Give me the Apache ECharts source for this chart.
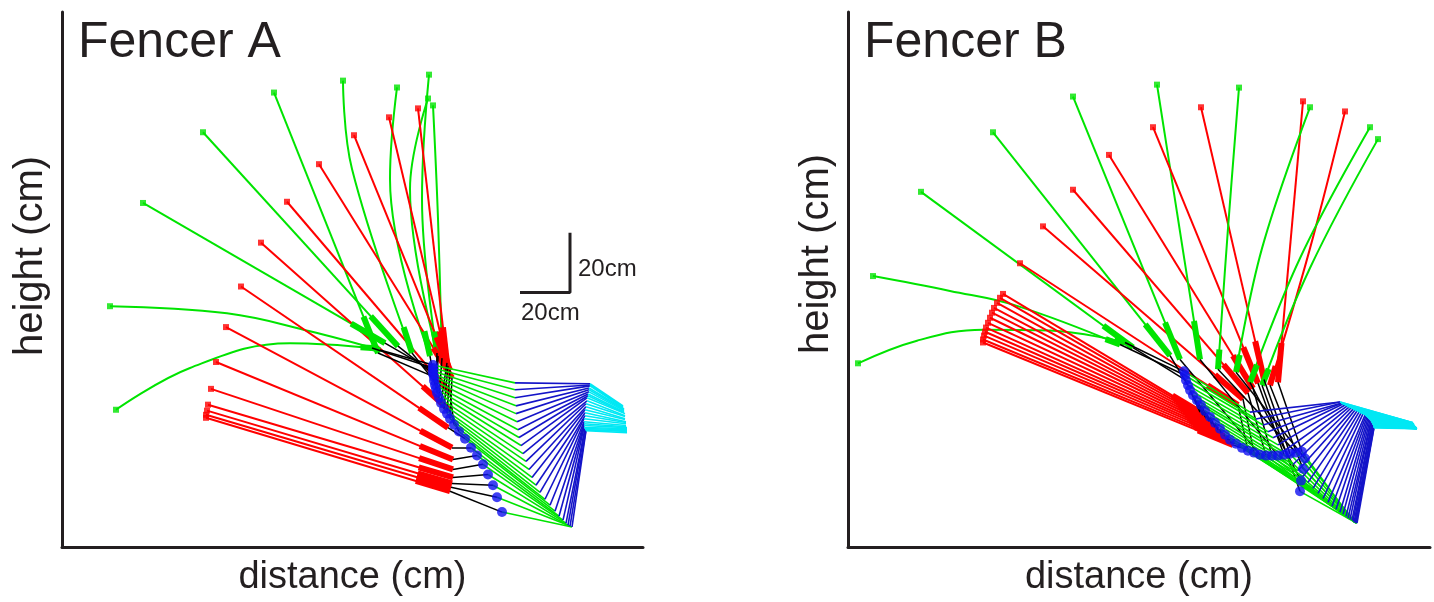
<!DOCTYPE html>
<html>
<head>
<meta charset="utf-8">
<script src="https://cdn.jsdelivr.net/npm/echarts/dist/echarts.min.js"></script>
<style>
  html, body { margin: 0; padding: 0; background: #fff; }
  #chart { width: 1434px; height: 602px; }
</style>
</head>
<body>
<div id="chart"></div>
<script>
// arm + blade stick figures, one entry per video frame, positions in cm
const A_col = ['g','g','g','g','g','g','g','g','g','g','r','r','r','r','r','r','r','r','r','r','r','r','r','r'];
const A_tipX = [19.2, 21.6, 32.4, 56.4, 84.8, 112.4, 134.0, 146.8, 146.4, 148.4, 142.4, 130.8, 116.8, 102.8, 90.0, 79.6, 71.6, 65.6, 61.6, 59.6, 58.4, 58.0, 57.6, 57.6];
const A_tipY = [80.7, 46.0, 115.3, 139.0, 152.3, 156.3, 154.0, 158.3, 150.3, 148.0, 147.0, 144.0, 138.0, 128.3, 115.7, 102.0, 87.3, 73.7, 62.0, 53.0, 47.7, 45.7, 44.3, 43.3];
const A_bendX = [[66.0, 99.2], [51.2, 91.2], null, null, null, [116.0], [131.2], [144.0], [139.2], [150.4], null, null, null, null, null, null, null, null, null, null, null, null, null, null];
const A_bendY = [[78.3, 72.3], [60.0, 68.3], null, null, null, [126.7], [123.3], [116.7], [120.0], [110.0], null, null, null, null, null, null, null, null, null, null, null, null, null, null];
const A_handX = [127.2, 124.0, 129.2, 134.4, 126.4, 140.0, 147.2, 150.0, 150.4, 152.0, 154.0, 154.4, 155.2, 156.0, 155.2, 154.8, 154.4, 156.0, 156.4, 156.4, 156.4, 156.0, 155.6, 155.2];
const A_handY = [66.0, 66.7, 68.3, 67.3, 65.0, 65.0, 64.0, 65.0, 64.0, 63.3, 61.7, 60.7, 59.3, 56.7, 51.7, 46.0, 40.0, 33.3, 29.3, 26.0, 23.3, 21.3, 20.0, 18.7];
const A_wristX = [148.4, 148.4, 148.4, 148.4, 148.8, 148.8, 149.2, 149.6, 150.0, 150.8, 151.6, 152.8, 154.0, 155.2, 156.8, 158.8, 161.2, 163.6, 166.0, 168.4, 170.4, 172.4, 174.0, 176.0];
const A_wristY = [61.0, 60.0, 59.0, 58.0, 57.0, 55.7, 54.3, 53.0, 51.7, 50.0, 48.3, 46.3, 44.7, 43.0, 41.0, 38.7, 36.3, 33.3, 30.7, 27.7, 24.3, 20.7, 16.7, 11.7];
const A_elbowX = [181.2, 181.2, 181.2, 181.6, 181.6, 182.0, 182.4, 182.8, 183.6, 184.4, 185.6, 186.8, 188.0, 189.6, 191.2, 193.2, 195.2, 197.2, 198.8, 200.4, 201.6, 202.4, 203.2, 204.0];
const A_elbowY = [55.0, 52.7, 50.0, 47.3, 44.7, 42.0, 39.3, 36.7, 34.0, 31.3, 28.7, 26.0, 23.3, 20.7, 18.3, 16.0, 14.0, 12.0, 10.3, 9.0, 8.0, 7.3, 7.0, 6.7];
const A_shoulderX = [211.2, 211.2, 211.2, 210.8, 210.8, 210.8, 210.4, 210.4, 210.0, 210.0, 209.6, 209.6, 209.2, 209.2, 209.2, 208.8, 208.8, 208.8, 208.8, 208.8, 209.2, 209.2, 209.6, 209.6];
const A_shoulderY = [54.7, 54.3, 54.0, 53.3, 52.7, 52.0, 51.3, 50.7, 50.0, 49.0, 48.0, 47.0, 46.0, 45.0, 44.0, 43.0, 42.0, 41.3, 40.7, 40.0, 39.7, 39.3, 39.3, 39.0];
const A_cyanX = [224.4, 224.4, 224.4, 224.8, 224.8, 224.8, 224.8, 224.8, 225.2, 225.2, 225.2, 225.2, 225.2, 225.6, 225.6, 225.6, 225.6, 225.6, 226.0, 226.0, 226.0, 226.0, 226.0, 226.0];
const A_cyanY = [47.3, 47.0, 46.7, 46.3, 46.0, 45.7, 45.3, 45.0, 44.7, 44.0, 43.7, 43.0, 42.7, 42.0, 41.7, 41.3, 40.7, 40.3, 40.0, 39.7, 39.3, 39.0, 38.7, 38.3];

const B_col = ['g','g','g','g','r','r','r','r','r','r','r','r','r','r','r','r','r','r','g','r','r','g','r','r','g','r','g','r','g','g'];
const B_tipX = [4.0, 10.0, 29.2, 58.0, 62.0, 60.8, 59.6, 58.4, 57.6, 56.8, 56.0, 55.2, 54.8, 54.4, 54.0, 54.0, 68.8, 78.0, 90.0, 90.0, 104.4, 123.6, 122.0, 141.2, 156.4, 182.0, 184.8, 198.8, 208.8, 212.0];
const B_tipY = [61.7, 91.0, 119.3, 139.3, 85.0, 83.7, 82.0, 80.3, 78.7, 77.0, 75.3, 73.7, 72.3, 71.0, 69.7, 68.7, 95.3, 107.7, 151.3, 120.0, 131.7, 155.3, 141.0, 147.7, 154.3, 149.7, 147.7, 146.3, 141.0, 137.0];
const B_bendX = [[27.6, 54.0, 80.8], [40.8, 67.6], null, null, null, null, null, null, null, null, null, null, null, null, null, null, null, null, null, null, null, null, null, null, [152.0], null, [165.6], [184.8], [180.8], [184.8]];
const B_bendY = [[69.3, 73.0, 72.7], [86.0, 81.0], null, null, null, null, null, null, null, null, null, null, null, null, null, null, null, null, null, null, null, null, null, null, [107.0], null, [100.3], [100.3], [97.0], [93.7]];
const B_handX = [110.8, 108.8, 114.0, 128.8, 140.8, 142.0, 143.2, 144.4, 145.6, 146.8, 148.0, 149.2, 150.4, 151.6, 152.8, 154.0, 156.0, 158.0, 132.8, 160.0, 162.0, 140.8, 164.0, 166.4, 148.0, 172.0, 155.2, 168.8, 160.8, 165.6];
const B_handY = [68.7, 68.0, 67.0, 64.3, 45.3, 44.3, 43.3, 42.3, 41.3, 40.3, 39.3, 38.3, 37.3, 36.3, 35.3, 34.3, 47.7, 49.7, 63.0, 51.7, 53.3, 63.0, 55.0, 56.3, 59.7, 55.3, 58.7, 54.3, 55.3, 54.3];
const B_wristX = [134.4, 134.8, 135.2, 136.0, 136.8, 138.0, 139.6, 141.2, 142.8, 144.8, 146.8, 148.8, 150.8, 152.8, 155.2, 157.6, 160.0, 162.4, 164.8, 167.2, 169.6, 172.0, 174.4, 176.8, 179.2, 181.6, 182.8, 182.0, 181.2, 180.8];
const B_wristY = [59.0, 57.7, 56.0, 54.3, 52.7, 51.0, 49.3, 47.7, 45.7, 43.7, 41.7, 39.7, 37.7, 36.0, 34.7, 33.3, 32.3, 31.7, 31.0, 30.7, 30.7, 30.7, 31.0, 31.3, 31.7, 32.0, 29.7, 26.3, 22.3, 18.7];
const B_elbowX = [160.8, 163.2, 166.0, 168.0, 170.0, 172.0, 174.0, 176.0, 178.0, 180.0, 182.0, 184.0, 186.0, 188.0, 190.0, 192.0, 193.6, 195.2, 196.8, 198.0, 199.2, 200.0, 200.8, 201.6, 202.0, 202.4, 202.8, 203.2, 203.2, 203.6];
const B_elbowY = [45.3, 43.0, 41.0, 38.7, 36.7, 34.3, 32.0, 30.0, 27.7, 25.7, 23.7, 21.7, 19.7, 18.0, 16.3, 15.0, 13.7, 12.7, 11.7, 11.0, 10.3, 9.7, 9.3, 9.0, 8.7, 8.3, 8.3, 8.0, 8.0, 8.0];
const B_shoulderX = [196.8, 196.8, 197.2, 197.6, 198.0, 198.8, 199.6, 200.4, 201.2, 202.0, 202.8, 203.6, 204.4, 205.2, 206.0, 206.8, 207.2, 207.6, 208.0, 208.4, 208.8, 209.2, 209.2, 209.6, 209.6, 210.0, 210.0, 210.0, 210.4, 210.4];
const B_shoulderY = [48.7, 48.7, 48.3, 48.3, 48.0, 47.7, 47.3, 47.0, 46.7, 46.3, 46.0, 45.7, 45.3, 45.0, 44.7, 44.3, 44.0, 43.7, 43.3, 43.0, 42.7, 42.3, 42.0, 41.7, 41.3, 41.0, 40.7, 40.3, 40.3, 40.0];
const B_cyanX = [226.0, 226.0, 226.0, 226.0, 226.4, 226.4, 226.4, 226.4, 226.4, 226.8, 226.8, 226.8, 226.8, 226.8, 227.2, 227.2, 227.2, 227.2, 227.2, 227.2, 227.6, 227.6, 227.6, 227.6, 227.6, 227.6, 227.6, 227.6, 227.6, 227.6];
const B_cyanY = [41.7, 41.7, 41.7, 41.3, 41.3, 41.3, 41.0, 41.0, 41.0, 40.7, 40.7, 40.7, 40.3, 40.3, 40.3, 40.3, 40.0, 40.0, 40.0, 40.0, 40.0, 39.7, 39.7, 39.7, 39.7, 39.7, 39.7, 39.7, 39.7, 39.7];

// 20cm scale bar (panel A)
const scaleX = [183.2, 203.2, 203.2];
const scaleY = [85.3, 85.3, 105.3];

const COLORS = { g: '#00e400', r: '#ff0000' };
const INK = '#231f20';
const FONT = '"Liberation Sans", Arial, Helvetica, sans-serif';

function panelSeries(p, gi) {
  let series = [];
  let n = p.tipX.length;
  let axes = { xAxisIndex: gi, yAxisIndex: gi };

  let guards = [], tips = [], black = [], fore = [], upper = [], cyan = [];
  for (let i = 0; i < n; i++) {
    let col = COLORS[p.col[i]];
    let pts = [[p.tipX[i], p.tipY[i]]];
    if (p.bendX[i]) p.bendX[i].forEach((bx, k) => pts.push([bx, p.bendY[i][k]]));
    pts.push([p.handX[i], p.handY[i]]);
    series.push({
      type: 'line', ...axes, data: pts, smooth: p.bendX[i] ? 0.4 : false,
      showSymbol: false, silent: true, z: 2,
      lineStyle: { color: col, width: 2 }
    });
    // thick grip part of the blade next to the hand
    let prev = pts[pts.length - 2];
    let hx = p.handX[i], hy = p.handY[i];
    guards.push({
      coords: [[hx, hy], [hx + (prev[0] - hx) * 0.14, hy + (prev[1] - hy) * 0.14]],
      lineStyle: { color: col }
    });
    tips.push({ value: [p.tipX[i], p.tipY[i]], itemStyle: { color: col } });
    black.push({ coords: [[p.wristX[i], p.wristY[i]], [hx, hy]] });
    fore.push({ coords: [[p.wristX[i], p.wristY[i]], [p.elbowX[i], p.elbowY[i]]] });
    upper.push({ coords: [[p.elbowX[i], p.elbowY[i]], [p.shoulderX[i], p.shoulderY[i]]] });
    cyan.push({ coords: [[p.shoulderX[i], p.shoulderY[i]], [p.cyanX[i], p.cyanY[i]]] });
  }

  let lines = (data, color, width, z) => ({
    type: 'lines', ...axes, coordinateSystem: 'cartesian2d', data, silent: true, z,
    lineStyle: { color, width, opacity: 1 }
  });

  series.push({ ...lines(guards, null, 6, 3), lineStyle: { width: 6, opacity: 1 } });
  series.push(lines(black, '#000000', 1.5, 4));
  series.push(lines(fore, '#00e400', 1.6, 4));
  series.push(lines(upper, '#1414c8', 1.6, 4));
  series.push(lines(cyan, '#00e8f4', 1.6, 4));
  series.push({
    type: 'scatter', ...axes, data: tips, symbol: 'rect', symbolSize: 6, silent: true, z: 5
  });
  series.push({
    type: 'scatter', ...axes, silent: true, z: 6, symbolSize: 10,
    data: p.wristX.map((x, i) => [x, p.wristY[i]]),
    itemStyle: { color: '#1010f0' }
  });
  return series;
}

let A = { col: A_col, tipX: A_tipX, tipY: A_tipY, bendX: A_bendX, bendY: A_bendY, handX: A_handX, handY: A_handY,
  wristX: A_wristX, wristY: A_wristY, elbowX: A_elbowX, elbowY: A_elbowY,
  shoulderX: A_shoulderX, shoulderY: A_shoulderY, cyanX: A_cyanX, cyanY: A_cyanY };
let B = { col: B_col, tipX: B_tipX, tipY: B_tipY, bendX: B_bendX, bendY: B_bendY, handX: B_handX, handY: B_handY,
  wristX: B_wristX, wristY: B_wristY, elbowX: B_elbowX, elbowY: B_elbowY,
  shoulderX: B_shoulderX, shoulderY: B_shoulderY, cyanX: B_cyanX, cyanY: B_cyanY };

let axisLine = { show: true, lineStyle: { color: INK, width: 3 } };
let xAxis = (gi, max) => ({
  type: 'value', gridIndex: gi, min: 0, max, name: 'distance (cm)', nameLocation: 'middle', nameGap: 12,
  nameTextStyle: { fontFamily: FONT, fontSize: 38, color: INK },
  axisLine, axisTick: { show: false }, axisLabel: { show: false }, splitLine: { show: false }
});
let yAxis = (gi, max) => ({
  type: 'value', gridIndex: gi, min: 0, max,
  axisLine, axisTick: { show: false }, axisLabel: { show: false }, splitLine: { show: false }
});
let yTitle = (x, y) => ({
  type: 'text', x, y, rotation: Math.PI / 2,
  style: { text: 'height (cm)', font: '40px ' + FONT, fill: INK, align: 'center', verticalAlign: 'middle' }
});

let chart = echarts.init(document.getElementById('chart'));
chart.setOption({
  animation: false,
  backgroundColor: '#ffffff',
  grid: [
    { left: 62, top: 12, width: 581, height: 538 },
    { left: 848, top: 12, width: 582, height: 539 }
  ],
  xAxis: [xAxis(0, 232.4), xAxis(1, 232.8)],
  yAxis: [yAxis(0, 179.3), yAxis(1, 179.7)],
  graphic: [
    { type: 'text', left: 78, top: 18, style: { text: 'Fencer A', font: '50px ' + FONT, fill: INK } },
    { type: 'text', left: 864, top: 18, style: { text: 'Fencer B', font: '50px ' + FONT, fill: INK } },
    yTitle(31, 256),
    yTitle(817, 254),
    { type: 'text', left: 578, top: 257, style: { text: '20cm', font: '24px ' + FONT, fill: INK } },
    { type: 'text', left: 521, top: 301, style: { text: '20cm', font: '24px ' + FONT, fill: INK } }
  ],
  series: [
    ...panelSeries(A, 0),
    ...panelSeries(B, 1),
    {
      type: 'line', xAxisIndex: 0, yAxisIndex: 0, silent: true, showSymbol: false, z: 5,
      data: scaleX.map((x, i) => [x, scaleY[i]]),
      lineStyle: { color: INK, width: 3 }
    }
  ]
});
</script>
</body>
</html>
